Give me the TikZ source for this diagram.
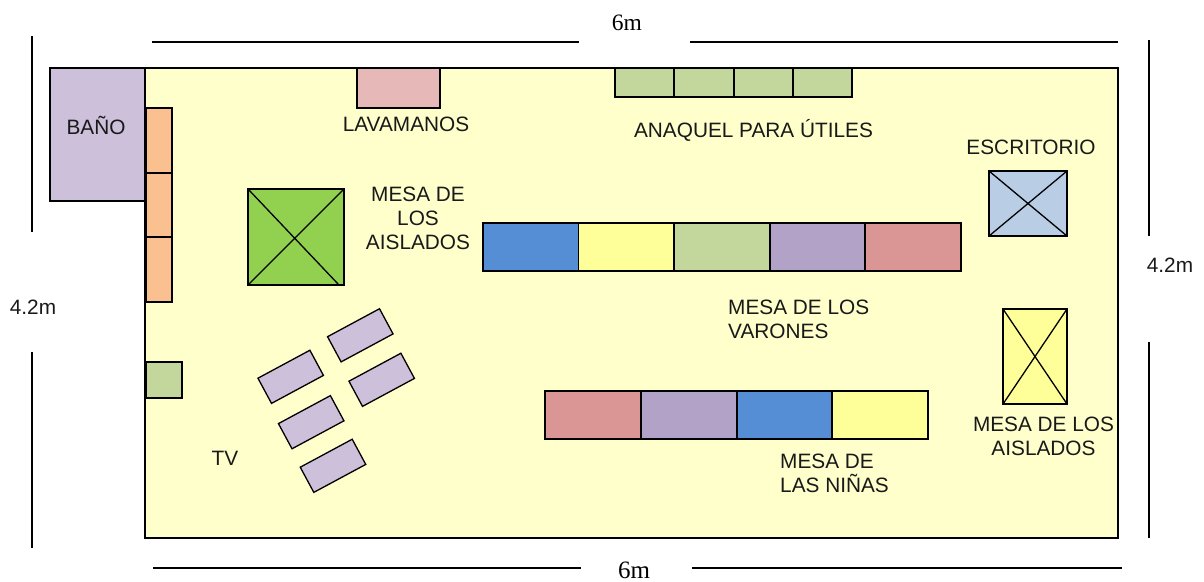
\documentclass[tikz,border=0pt]{standalone}
\usepackage{fontspec}
\setmainfont{Liberation Sans}
\newfontfamily\unitfont{Liberation Serif}
\usetikzlibrary{positioning}
\definecolor{roomfill}{HTML}{FFFFCC}
\definecolor{lilac}{HTML}{CCC0DA}
\definecolor{peach}{HTML}{FAC090}
\definecolor{rose}{HTML}{E6B8B7}
\definecolor{sage}{HTML}{C3D69B}
\definecolor{leaf}{HTML}{92D050}
\definecolor{azul}{HTML}{558ED5}
\definecolor{lemon}{HTML}{FFFF99}
\definecolor{plum}{HTML}{B3A2C7}
\definecolor{brick}{HTML}{D99694}
\definecolor{steel}{HTML}{B9CDE5}
\tikzset{
  furn/.style={draw=black,line width=1.3pt},
  dimline/.style={black,line width=1.3pt},
  lbl/.style={font=\fontsize{20.8}{24}\selectfont,align=center,inner sep=0pt,text=black!90},
  lblleft/.style={lbl,align=left,anchor=west},
  sixm/.style={inner sep=0pt,font=\fontsize{23.5}{26}\selectfont\unitfont}
}
\begin{document}
\begin{tikzpicture}[x=1pt,y=-1pt]
  \useasboundingbox (0,0) rectangle (1204,581);
  % room and bath
  \filldraw[furn,fill=roomfill] (145,68) rectangle (1118,538);
  \filldraw[furn,fill=lilac] (50,68) rectangle (145,201);
  \foreach \ya/\yb in {108/173,173/237,237/302}
    \filldraw[furn,fill=peach] (146,\ya) rectangle (172,\yb);
  \filldraw[furn,fill=rose] (357,68) rectangle (440,108);
  \foreach \xa/\xb in {615/674,674/734,734/793,793/852}
    \filldraw[furn,fill=sage] (\xa,68) rectangle (\xb,97);
  \filldraw[furn,fill=sage] (146,362) rectangle (182,398);
  % crossed tables
  \filldraw[furn,fill=leaf] (248,189) rectangle (344,285);
  \draw[furn] (248,189) -- (339,285) (344,189) -- (248,285);
  \filldraw[furn,fill=steel] (989,171) rectangle (1067,236);
  \draw[furn] (989,171) -- (1067,236) (1067,171) -- (989,236);
  \filldraw[furn,fill=lemon] (1003,309) rectangle (1067,404);
  \draw[furn] (1003,309) -- (1067,404) (1067,309) -- (1003,404);
  % long tables
  \foreach \xa/\xb/\c in {483/578.5/azul,578.5/674/lemon,674/770/sage,770/865/plum,865/961/brick}
    \filldraw[furn,fill=\c] (\xa,223) rectangle (\xb,271);
  \foreach \xa/\xb/\c in {545/641/brick,641/737/plum,737/832/azul,832/928/lemon}
    \filldraw[furn,fill=\c] (\xa,391) rectangle (\xb,439);
  % seats in front of the tv
  \foreach \cx/\cy in {360.3/335.3,381.7/379.8,290.7/376.8,311.2/422.2,333/465.8}
    \filldraw[furn,fill=lilac,shift={(\cx,\cy)},rotate=28.3] (-29.5,-14.3) rectangle (29.5,14.3);
  % measures
  \draw[dimline] (152,42) -- (579,42);
  \draw[dimline] (690,42) -- (1118,42);
  \draw[dimline] (153,568) -- (581,568);
  \draw[dimline] (692,568) -- (1121.5,568);
  \draw[dimline] (32,36) -- (32,232);
  \draw[dimline] (32,352) -- (32,548);
  \draw[dimline] (1149,40) -- (1149,236);
  \draw[dimline] (1149,342) -- (1149,538);
  \node[sixm] (sixtop) at (627,23) {6m};
  \node[sixm,font=\fontsize{25}{26}\selectfont\unitfont] (sixbot) at (634,570.5) {6m};
  \node[lbl] (leftm) at (33,307) {4.2m};
  \node[lbl] (rightm) at (1170,265) {4.2m};
  % labels
  \node[lbl] (bano) at (96,125) {BAÑO};
  \node[lbl] (lavamanos) at (406,124) {LAVAMANOS};
  \node[lbl] (anaquel) at (753.5,130) {ANAQUEL PARA ÚTILES};
  \node[lbl] (aislaA) at (418,218) {MESA DE\\LOS\\AISLADOS};
  \node[lbl] (escritorio) at (1031,147) {ESCRITORIO};
  \node[lblleft] (varones) at (728,319) {MESA DE LOS\\VARONES};
  \node[lblleft] (ninas) at (780,473) {MESA DE\\LAS NIÑAS};
  \node[lbl] (aislaB) at (1043.5,436) {MESA DE LOS\\AISLADOS};
  \node[lbl] (tv) at (225,458) {TV};
\end{tikzpicture}
\end{document}
